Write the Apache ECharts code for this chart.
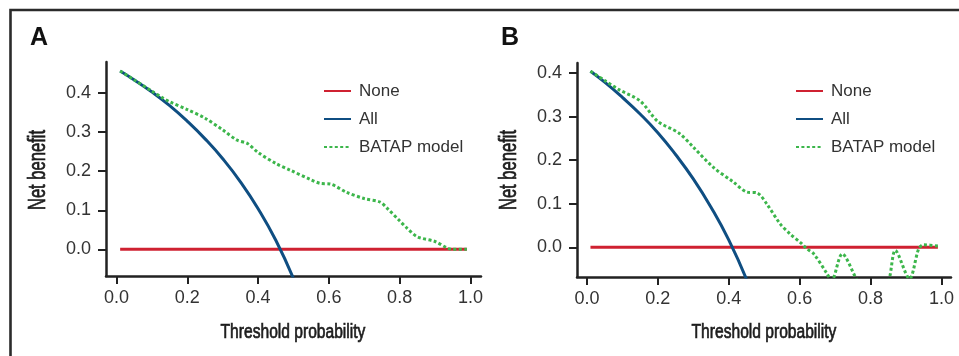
<!DOCTYPE html>
<html>
<head>
  <meta charset="UTF-8">
  <title>Decision curves</title>
  <style>
    html, body { margin: 0; padding: 0; background: #fff; }
    #chart { width: 959px; height: 356px; }
  </style>
</head>
<body>
<div id="chart"></div>
<script src="https://cdn.jsdelivr.net/npm/echarts@6/dist/echarts.min.js"></script>
<script>
// threshold probabilities and net benefit
var noneX = [0.01, 0.99];
var noneY = [0, 0];

// panel A
var allAX = [0.01, 0.05, 0.10, 0.15, 0.20, 0.25, 0.30, 0.35, 0.40, 0.45, 0.50];
var allAY = [0.457, 0.434, 0.403, 0.368, 0.328, 0.283, 0.232, 0.173, 0.104, 0.023, -0.075];
var batapAX = [0.01, 0.05, 0.10, 0.13, 0.15, 0.20, 0.25, 0.30, 0.34, 0.37, 0.40, 0.45, 0.49,
  0.55, 0.575, 0.605, 0.65, 0.70, 0.745, 0.765, 0.80, 0.82, 0.85, 0.90, 0.935, 0.95, 0.99];
var batapAY = [0.457, 0.434, 0.405, 0.388, 0.378, 0.358, 0.336, 0.306, 0.280, 0.271, 0.248, 0.220, 0.203,
  0.178, 0.169, 0.167, 0.146, 0.130, 0.121, 0.105, 0.073, 0.055, 0.032, 0.020, 0.003, 0.0, 0.0];

// panel B
var allBX = [0.01, 0.05, 0.10, 0.15, 0.20, 0.25, 0.30, 0.35, 0.40, 0.45, 0.50];
var allBY = [0.404, 0.379, 0.344, 0.306, 0.263, 0.213, 0.157, 0.092, 0.017, -0.073, -0.18];
var batapBX = [0.01, 0.05, 0.09, 0.15, 0.20, 0.26, 0.30, 0.356, 0.413, 0.451, 0.48, 0.507, 0.545,
  0.573, 0.605, 0.62, 0.64, 0.677, 0.69, 0.72, 0.762, 0.80, 0.83, 0.852, 0.87, 0.91, 0.936, 0.95, 0.99];
var batapBY = [0.404, 0.383, 0.362, 0.336, 0.289, 0.262, 0.230, 0.184, 0.150, 0.127, 0.125, 0.100, 0.054,
  0.031, 0.009, -0.003, -0.015, -0.060, -0.076, -0.015, -0.075, -0.12, -0.11, -0.075, -0.007, -0.072, -0.003, 0.006, 0.003];

var xTicks = [0, 0.2, 0.4, 0.6, 0.8, 1.0];
var yTicks = [0, 0.1, 0.2, 0.3, 0.4];
var names = ['None', 'All', 'BATAP model'];
var xTitle = 'Threshold probability';
var yTitle = 'Net benefit';

function pairs(xs, ys) {
  return xs.map(function (x, i) { return [x, ys[i]]; });
}

var sans = '"Liberation Sans", Arial, Helvetica, sans-serif';
var ink = '#222';
var red = '#cf2131', blue = '#0f4e82', green = '#3cb64b';

function xAxisOf(idx, min, max) {
  return {
    type: 'value', gridIndex: idx, min: min, max: max,
    axisLine: { onZero: false, lineStyle: { color: ink, width: 2.5 } },
    axisTick: { length: 8, lineStyle: { color: ink, width: 2 }, customValues: xTicks },
    axisLabel: { margin: 13, fontFamily: sans, fontSize: 18, color: '#333',
      customValues: xTicks, formatter: function (v) { return v.toFixed(1); } },
    splitLine: { show: false }
  };
}
function yAxisOf(idx, min, max) {
  return {
    type: 'value', gridIndex: idx, min: min, max: max,
    axisLine: { onZero: false, lineStyle: { color: ink, width: 2.5 } },
    axisTick: { length: 8, lineStyle: { color: ink, width: 2 }, customValues: yTicks },
    axisLabel: { margin: 15, fontFamily: sans, fontSize: 18, color: '#333',
      customValues: yTicks, formatter: function (v) { return v.toFixed(1); } },
    splitLine: { show: false }
  };
}
function lineSeries(name, idx, data, color, type) {
  return {
    name: name, type: 'line', xAxisIndex: idx, yAxisIndex: idx,
    data: data, showSymbol: false, symbol: 'none', smooth: type === 'dot' ? 0.3 : true,
    clip: true, animation: false,
    lineStyle: { color: color, width: 3, type: type === 'dot' ? [3, 2.4] : 'solid' },
    itemStyle: { color: color }
  };
}
function legendOf(left) {
  return {
    data: names, orient: 'vertical', left: left, top: 77,
    itemWidth: 27, itemHeight: 14, itemGap: 10,
    itemStyle: { opacity: 0, borderWidth: 0 },
    textStyle: { fontFamily: sans, fontSize: 17, color: '#333', lineHeight: 18, padding: [0, 0, 0, 3] },
    selectedMode: false
  };
}
// condensed axis titles: regular face squeezed horizontally, thin stroke for weight
function titleText(text, x, y, size, squeeze, vertical) {
  return {
    type: 'text', silent: true, x: x, y: y,
    rotation: vertical ? Math.PI / 2 : 0, scaleX: squeeze, scaleY: 1,
    style: { text: text, fontFamily: sans, fontSize: size, fill: '#1c1c1c',
      stroke: '#1c1c1c', lineWidth: 0.7, align: 'center', verticalAlign: 'middle' }
  };
}

var chart = echarts.init(document.getElementById('chart'));
var option = {
  backgroundColor: '#fff',
  animation: false,
  title: [
    { text: 'A', left: 25, top: 21, textStyle: { fontFamily: sans, fontSize: 25, fontWeight: 'bold', color: '#111' } },
    { text: 'B', left: 496, top: 21, textStyle: { fontFamily: sans, fontSize: 25, fontWeight: 'bold', color: '#111' } }
  ],
  grid: [
    { left: 106, top: 62, width: 375, height: 214 },
    { left: 577, top: 63, width: 374, height: 214 }
  ],
  xAxis: [xAxisOf(0, -0.03, 1.03), xAxisOf(1, -0.028, 1.027)],
  yAxis: [yAxisOf(0, -0.0685, 0.48), yAxisOf(1, -0.068, 0.423)],
  legend: [legendOf(318), legendOf(790)],
  graphic: [
    {
      type: 'polyline', silent: true,
      shape: { points: [[10.5, 360], [10.5, 10], [962, 10]] },
      style: { stroke: '#2b2b2b', lineWidth: 2.6, fill: null }
    },
    titleText(xTitle, 293, 332, 20, 0.78, false),
    titleText(xTitle, 764, 332, 20, 0.78, false),
    titleText(yTitle, 39, 170, 23, 0.72, true),
    titleText(yTitle, 510, 170, 23, 0.72, true)
  ],
  series: [
    lineSeries('None', 0, pairs(noneX, noneY), red, 'solid'),
    lineSeries('All', 0, pairs(allAX, allAY), blue, 'solid'),
    lineSeries('BATAP model', 0, pairs(batapAX, batapAY), green, 'dot'),
    lineSeries('None', 1, pairs(noneX, noneY), red, 'solid'),
    lineSeries('All', 1, pairs(allBX, allBY), blue, 'solid'),
    lineSeries('BATAP model', 1, pairs(batapBX, batapBY), green, 'dot')
  ]
};
chart.setOption(option);
</script>
</body>
</html>
